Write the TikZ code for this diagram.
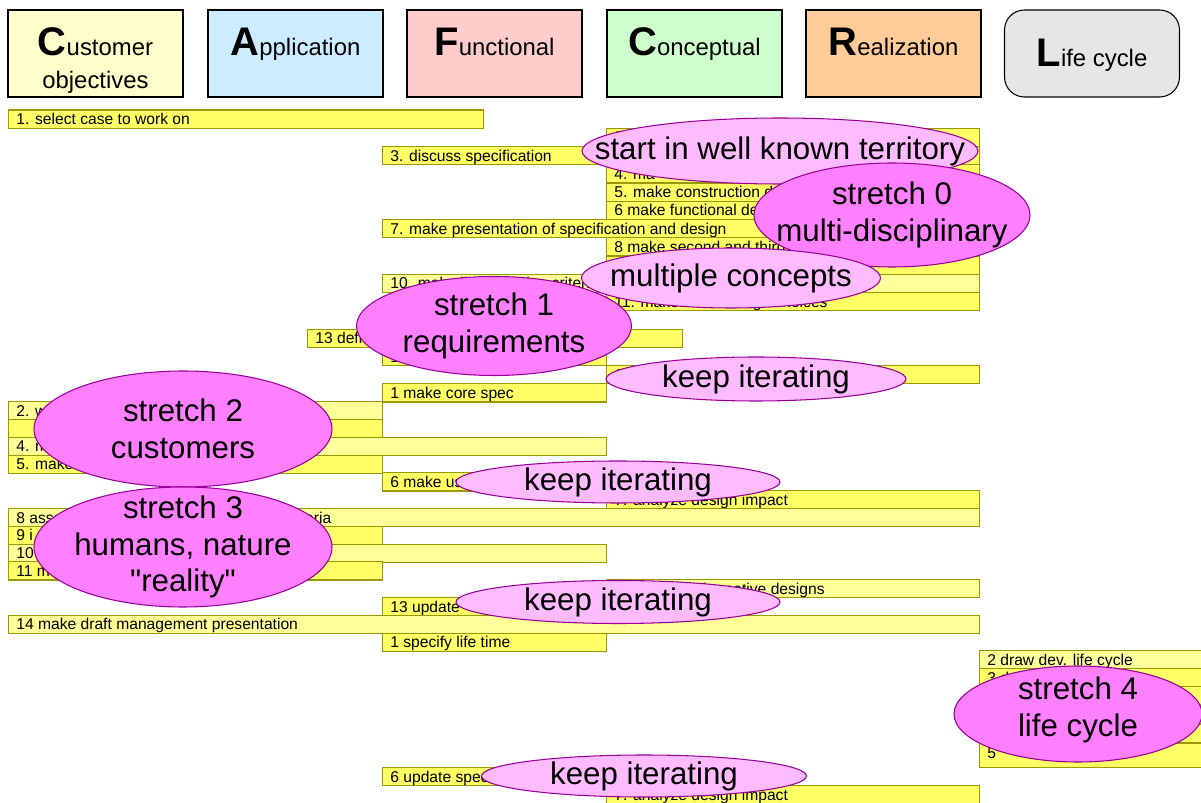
\documentclass[tikz,border=0pt]{standalone}
\usepackage{fontspec}
\setmainfont{Liberation Sans}
\newfontfamily\plainsans{Liberation Sans}
\usetikzlibrary{shapes.geometric}

\definecolor{custcol}{HTML}{FFFFCC}
\definecolor{applcol}{HTML}{CCECFF}
\definecolor{funccol}{HTML}{FFCCCC}
\definecolor{conccol}{HTML}{CCFFCC}
\definecolor{realcol}{HTML}{FFCC99}
\definecolor{lifecol}{HTML}{E6E6E6}
\definecolor{barhi}{HTML}{FFFF66}
\definecolor{barlo}{HTML}{FFFF99}
\definecolor{barline}{HTML}{999900}
\definecolor{blobline}{HTML}{990099}
\definecolor{bloblo}{HTML}{FFBBFF}
\definecolor{blobhi}{HTML}{FF80FF}

\newcommand{\capletter}[1]{{\fontsize{22.7}{24}\selectfont\bfseries #1}}

\tikzset{
  header/.style={draw, line width=0.6pt, minimum width=175*0.02cm, minimum height=87*0.02cm, inner sep=0},
  headtext/.style={anchor=base, inner sep=0, font=\fontsize{13.6}{16}\selectfont},
  bar/.style={draw=barline, line width=0.6pt, fill=#1, anchor=north west, minimum height=18.1*0.02cm, inner sep=0},
  bartext/.style={anchor=base west, inner sep=0, xshift=8*0.02cm, yshift=-5.6*0.02cm, font=\fontsize{8.9}{10}\selectfont},
  blob/.style={ellipse, draw=blobline, line width=0.6pt, fill=#1, inner sep=0},
  blobtext/.style={align=center, inner sep=0, font=\plainsans\fontsize{17.8}{21}\selectfont},
}

\begin{document}
\begin{tikzpicture}[x=0.02cm, y=-0.02cm]
  \path[use as bounding box, fill=white] (0,0) rectangle (1201,803);

  % CAFCR+ column headers
  \node[header, fill=custcol] (cust) at (95.5,53.5) {};
  \node[header, fill=applcol] (appl) at (295.5,53.5) {};
  \node[header, fill=funccol] (func) at (494.5,53.5) {};
  \node[header, fill=conccol] (conc) at (694.5,53.5) {};
  \node[header, fill=realcol] (real) at (893.5,53.5) {};
  \node[header, fill=lifecol, rounded corners=0.4cm] (life) at (1092,53.5) {};

  \node[headtext] (custtxt) at (95.5,56) {\capletter{C}ustomer};
  \node[headtext] (custtxtb) at (95.5,89) {objectives};
  \node[headtext] (appltxt) at (295.5,56) {\capletter{A}pplication};
  \node[headtext] (functxt) at (494.5,56) {\capletter{F}unctional};
  \node[headtext] (conctxt) at (694.5,56) {\capletter{C}onceptual};
  \node[headtext] (realtxt) at (893.5,56) {\capletter{R}ealization};
  \node[headtext] (lifetxt) at (1092,67) {\capletter{L}ife cycle};

  % the steps: name / top / left / width / fill / text
  \foreach \n/\y/\x/\w/\c/\t in {
      sel/109.5/8/475/barhi/{1. select case to work on},
      ctwo/127.8/606/373/barhi/{2},
      fthree/146/382/224/barhi/{3. discuss specification},
      cthree/146/606/373/barhi/{},
      cfour/164.3/606/373/barhi/{4. ma},
      cfive/182.5/606/373/barhi/{5. make construction decomposition},
      csix/200.8/606/373/barhi/{6 make functional decomposition},
      fseven/219.1/382/597/barhi/{7. make presentation of specification and design},
      ceight/237.3/606/373/barhi/{8 make second and third concept},
      cnine/255.6/606/373/barhi/{},
      ften/273.8/382/597/barlo/{10. make list of design criteria},
      celeven/292.1/606/373/barhi/{11. make list of design choices},
      fthirteen/328.6/307/375/barhi/{13 defi},
      ffourteen/346.9/382/224/barhi/{1},
      cfifteen/365.1/606/373/barhi/{1},
      core/383.4/382/224/barhi/{1 make core spec},
      atwo/401.2/8/374/barlo/{2. wh},
      athree/419/8/374/barhi/{},
      afour/436.8/8/598/barlo/{4. m},
      afive/454.6/8/374/barhi/{5. make},
      fsix/472.4/382/224/barhi/{6 make us},
      cseven/490.2/606/373/barhi/{7. analyze design impact},
      aeight/508/8/971/barlo/{8 assess concepts against customer's criteria},
      anine/525.8/8/374/barhi/{9 i},
      aten/543.6/8/598/barlo/{10},
      aeleven/561.4/8/374/barhi/{11 m},
      ctwelve/579.2/606/373/barlo/{12 analyze alternative designs},
      fthirteenu/597/382/224/barhi/{13 update},
      draft/614.8/8/971/barlo/{14 make draft management presentation},
      lifetime/632.6/382/224/barhi/{1 specify life time},
      ltwo/650.4/979/240/barlo/{2 draw dev. life cycle},
      lthree/668.2/979/240/barhi/{3 d},
      lfour/686/979/240/barhi/{},
      lfive/705/979/240/barhi/{},
      lsix/724/979/240/barhi/{},
      fsixu/767/382/224/barhi/{6 update specif},
      csevenu/785/606/373/barhi/{7. analyze design impact}%
  }{
    \node[bar=\c, minimum width=\w*0.02cm] (\n) at (\x,\y) {};
    \node[bartext] (t\n) at (\n.west) {\t};
  }
  \node[bar=barhi, minimum width=240*0.02cm, minimum height=24*0.02cm] (lseven) at (979,743) {};
  \node[bartext, yshift=3*0.02cm] (tlseven) at (lseven.west) {5};

  % remarks on top
  \node[blob=bloblo, minimum width=396*0.02cm, minimum height=66*0.02cm] (known) at (780,151) {};
  \node[blobtext] (knowntxt) at (known) {start in well known territory};
  \node[blob=blobhi, minimum width=276*0.02cm, minimum height=104*0.02cm] (stretch0) at (892,215) {};
  \node[blobtext] (stretch0txt) at (stretch0) {stretch 0\\multi-disciplinary};
  \node[blob=bloblo, minimum width=299*0.02cm, minimum height=60*0.02cm] (multi) at (731,278) {};
  \node[blobtext] (multitxt) at (multi) {multiple concepts};
  \node[blob=blobhi, minimum width=275*0.02cm, minimum height=99*0.02cm] (stretch1) at (494,326) {};
  \node[blobtext] (stretch1txt) at (stretch1) {stretch 1\\requirements};
  \node[blob=bloblo, minimum width=300*0.02cm, minimum height=44*0.02cm] (iter1) at (756,379) {};
  \node[blobtext] (iter1txt) at (iter1) {keep iterating};
  \node[blob=blobhi, minimum width=298*0.02cm, minimum height=116*0.02cm] (stretch2) at (183,429) {};
  \node[blobtext] (stretch2txt) at (stretch2) {stretch 2\\customers};
  \node[blob=bloblo, minimum width=324*0.02cm, minimum height=42*0.02cm] (iter2) at (618,482) {};
  \node[blobtext] (iter2txt) at (iter2) {keep iterating};
  \node[blob=blobhi, minimum width=298*0.02cm, minimum height=120*0.02cm] (stretch3) at (183,547) {};
  \node[blobtext] (stretch3txt) at (stretch3) {stretch 3\\humans, nature\\"reality"};
  \node[blob=bloblo, minimum width=324*0.02cm, minimum height=43*0.02cm] (iter3) at (618,602) {};
  \node[blobtext] (iter3txt) at (iter3) {keep iterating};
  \node[blob=blobhi, minimum width=248*0.02cm, minimum height=96*0.02cm] (stretch4) at (1078,714) {};
  \node[blobtext] (stretch4txt) at (1078,710) {stretch 4\\life cycle};
  \node[blob=bloblo, minimum width=325*0.02cm, minimum height=42*0.02cm] (iter4) at (644,776) {};
  \node[blobtext] (iter4txt) at (iter4) {keep iterating};
\end{tikzpicture}
\end{document}
